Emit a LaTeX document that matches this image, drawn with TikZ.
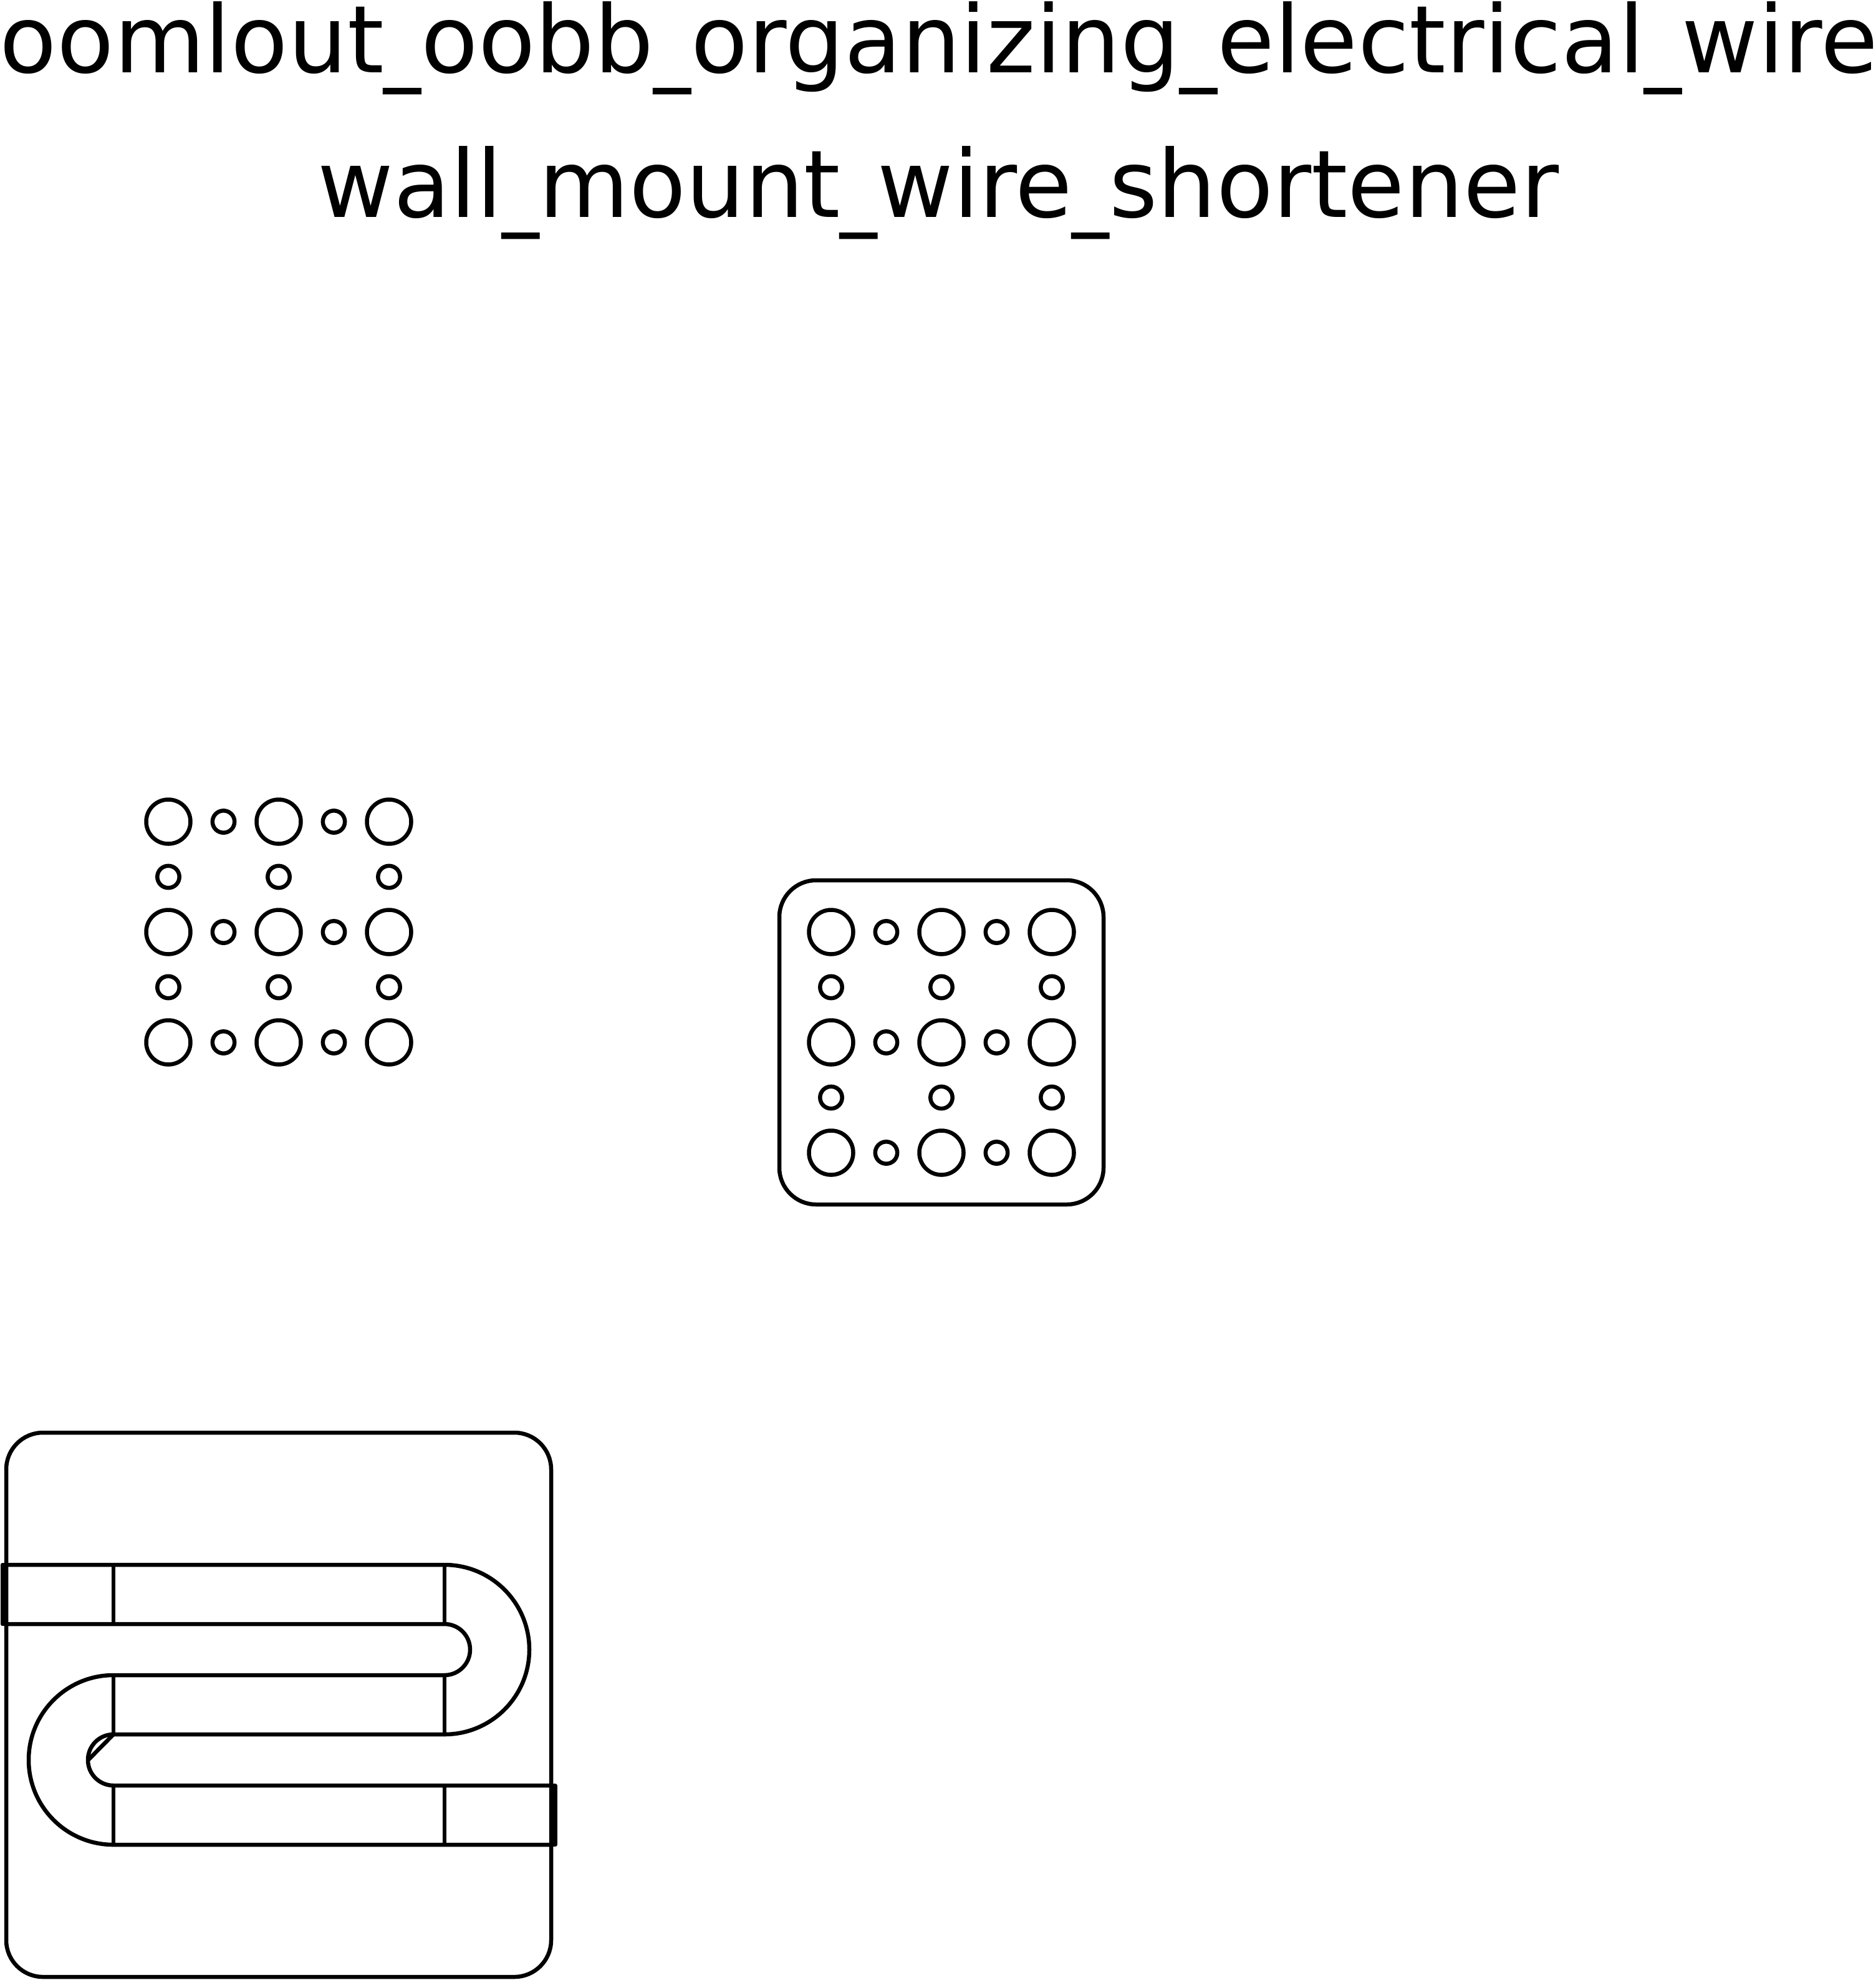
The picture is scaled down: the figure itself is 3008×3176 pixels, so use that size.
\documentclass[tikz,border=0pt]{standalone}
\usepackage{fontspec}
\setmainfont{DejaVu Sans}
\tikzset{
  part/.style={draw=black,line width=6.5pt,line join=round,fill=none},
  endcap/.style={draw=black,fill=black,line width=6.5pt,line join=round},
  titletext/.style={anchor=base,inner sep=0pt,font=\fontsize{150}{150}\selectfont,text=black}
}
\newcommand{\us}{\scalebox{0.8}[1]{\_}}
\newcommand{\holegrid}[2]{%
  \foreach \i in {0,1,2}{\foreach \j in {0,1,2}{
    \draw[part] ({#1+177*\i},{#2+177*\j}) circle[radius=35.5];
  }}
  \foreach \i in {0,1}{\foreach \j in {0,1,2}{
    \draw[part] ({#1+88.5+177*\i},{#2+177*\j}) circle[radius=17.7];
    \draw[part] ({#1+177*\j},{#2+88.5+177*\i}) circle[radius=17.7];
  }}
}
\begin{document}
\begin{tikzpicture}[x=1pt,y=-1pt]
\useasboundingbox (0,0) rectangle (3008,3176);
\fill[white] (0,0) rectangle (3008,3176);
\node[titletext] (title1) at (1506,117) {\scalebox{0.998}[1]{oomlout\us oobb\us organizing\us electrical\us wire}};
\node[titletext] (title2) at (1505,348) {\scalebox{0.992}[1]{wall\us mount\us wire\us shortener}};
\holegrid{270}{1318}
\draw[part,rounded corners=59pt] (1250,1412) rectangle (1770,1932);
\holegrid{1333}{1495}
\draw[part,rounded corners=59pt] (10,2298) rectangle (884,3171);
% wire outline
\draw[part] (7,2510) -- (713,2510) arc[start angle=-90,end angle=90,radius=136] -- (182,2782)
  arc[start angle=-90,end angle=-270,radius=41] -- (887,2864);
\draw[part] (7,2605) -- (713,2605) arc[start angle=-90,end angle=90,radius=41] -- (182,2687)
  arc[start angle=-90,end angle=-270,radius=136] -- (887,2959);
% cross lines
\foreach \x in {182,713}{
  \draw[part] (\x,2510) -- (\x,2605);
  \draw[part] (\x,2687) -- (\x,2782);
  \draw[part] (\x,2864) -- (\x,2959);
}
\draw[part] (182,2782) -- (141,2823.5);
\draw[endcap] (4,2510) rectangle (10,2605);
\draw[endcap] (884.5,2864) rectangle (890.5,2959);
\end{tikzpicture}
\end{document}
